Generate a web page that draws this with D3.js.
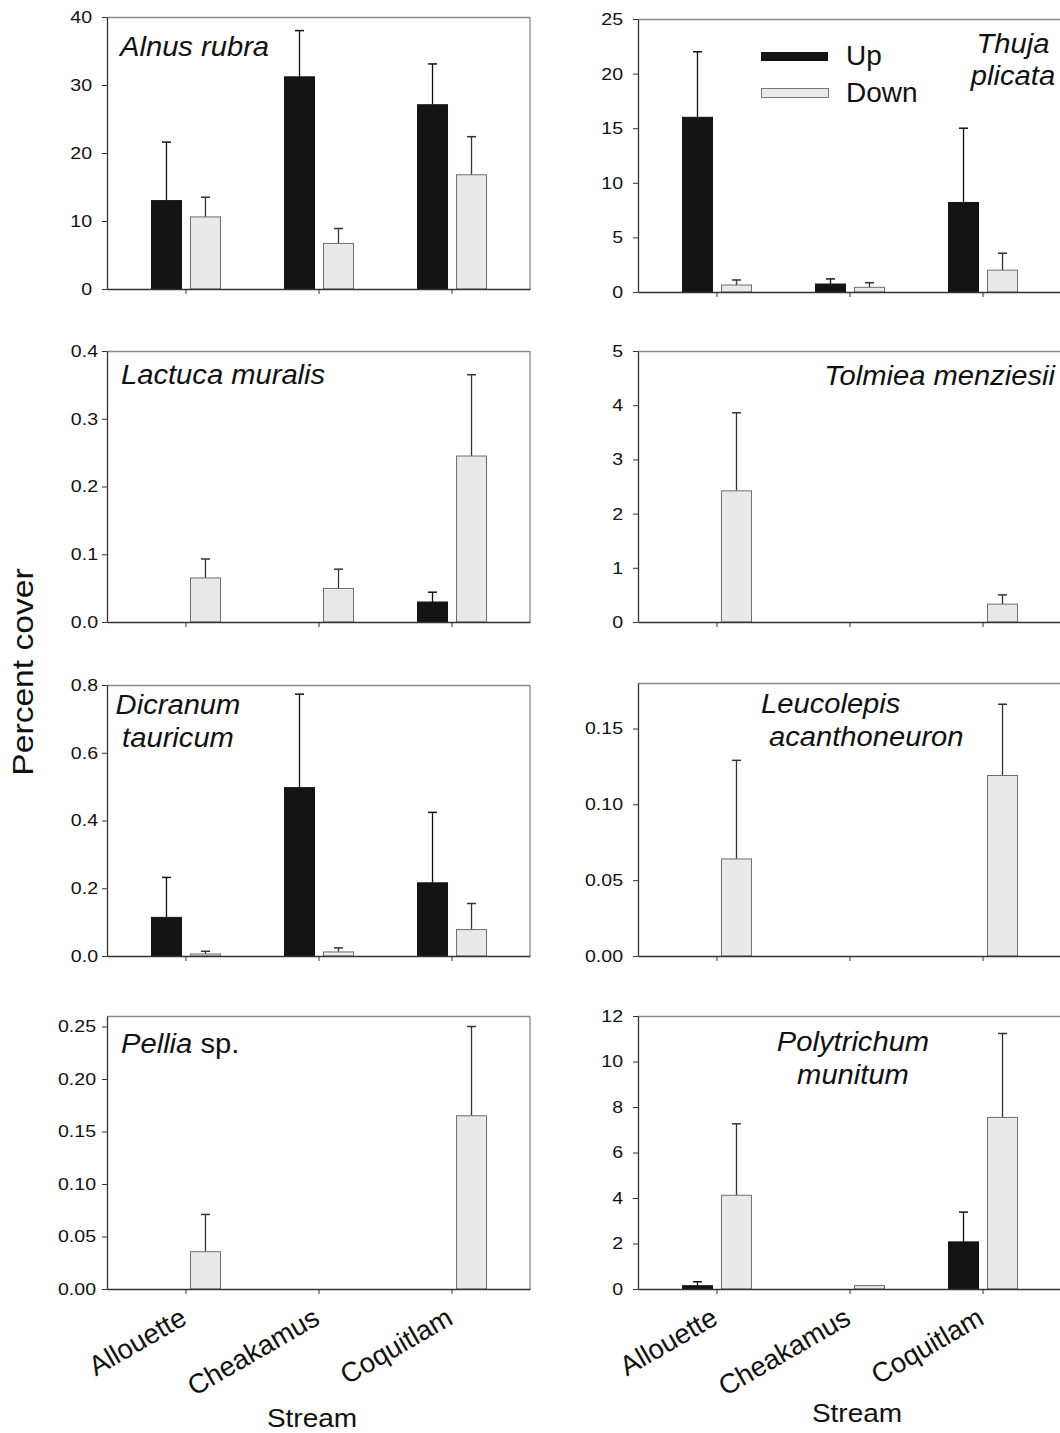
<!DOCTYPE html>
<html>
<head>
<meta charset="utf-8">
<script src="https://cdn.jsdelivr.net/npm/d3@7"></script>
<style>
  body { margin: 0; background: #fff; }
  svg { display: block; }
  text { font-family: "Liberation Sans", Arial, Helvetica, sans-serif; fill: #111; }
</style>
</head>
<body>
<svg id="chart" width="1060" height="1433"></svg>
<script>
// ---- data ----
const streams = ['Allouette', 'Cheakamus', 'Coquitlam'];
const series = ['Up', 'Down'];

// means and standard errors (upper whisker only), per stream
const alnusUp = [13.0, 31.2, 27.1];
const alnusUpSe = [8.6, 6.8, 6.0];
const alnusDown = [10.6, 6.7, 16.8];
const alnusDownSe = [2.9, 2.2, 5.6];
const alnusTicks = [0, 10, 20, 30, 40];

const thujaUp = [16.0, 0.73, 8.2];
const thujaUpSe = [6.0, 0.47, 6.8];
const thujaDown = [0.64, 0.43, 2.0];
const thujaDownSe = [0.46, 0.42, 1.55];
const thujaTicks = [0, 5, 10, 15, 20, 25];

const lactucaUp = [0, 0, 0.0295];
const lactucaUpSe = [0, 0, 0.0145];
const lactucaDown = [0.065, 0.0495, 0.245];
const lactucaDownSe = [0.028, 0.0285, 0.12];
const lactucaTicks = [0, 0.1, 0.2, 0.3, 0.4];

const tolmieaUp = [0, 0, 0];
const tolmieaUpSe = [0, 0, 0];
const tolmieaDown = [2.42, 0, 0.33];
const tolmieaDownSe = [1.44, 0, 0.17];
const tolmieaTicks = [0, 1, 2, 3, 4, 5];

const dicranumUp = [0.114, 0.497, 0.216];
const dicranumUpSe = [0.118, 0.276, 0.208];
const dicranumDown = [0.006, 0.012, 0.078];
const dicranumDownSe = [0.008, 0.012, 0.077];
const dicranumTicks = [0, 0.2, 0.4, 0.6, 0.8];

const leucolepisUp = [0, 0, 0];
const leucolepisUpSe = [0, 0, 0];
const leucolepisDown = [0.064, 0, 0.119];
const leucolepisDownSe = [0.065, 0, 0.047];
const leucolepisTicks = [0, 0.05, 0.10, 0.15];

const pelliaUp = [0, 0, 0];
const pelliaUpSe = [0, 0, 0];
const pelliaDown = [0.0355, 0, 0.165];
const pelliaDownSe = [0.0355, 0, 0.085];
const pelliaTicks = [0, 0.05, 0.10, 0.15, 0.20, 0.25];

const polytrichumUp = [0.145, 0, 2.07];
const polytrichumUpSe = [0.175, 0, 1.31];
const polytrichumDown = [4.12, 0.15, 7.54];
const polytrichumDownSe = [3.14, 0, 3.69];
const polytrichumTicks = [0, 2, 4, 6, 8, 10, 12];

const panels = [
  {up: alnusUp, upSe: alnusUpSe, down: alnusDown, downSe: alnusDownSe, ticks: alnusTicks, max: 40, fmt: 'd'},
  {up: thujaUp, upSe: thujaUpSe, down: thujaDown, downSe: thujaDownSe, ticks: thujaTicks, max: 25, fmt: 'd'},
  {up: lactucaUp, upSe: lactucaUpSe, down: lactucaDown, downSe: lactucaDownSe, ticks: lactucaTicks, max: 0.4, fmt: '.1f'},
  {up: tolmieaUp, upSe: tolmieaUpSe, down: tolmieaDown, downSe: tolmieaDownSe, ticks: tolmieaTicks, max: 5, fmt: 'd'},
  {up: dicranumUp, upSe: dicranumUpSe, down: dicranumDown, downSe: dicranumDownSe, ticks: dicranumTicks, max: 0.8, fmt: '.1f'},
  {up: leucolepisUp, upSe: leucolepisUpSe, down: leucolepisDown, downSe: leucolepisDownSe, ticks: leucolepisTicks, max: 0.18, fmt: '.2f'},
  {up: pelliaUp, upSe: pelliaUpSe, down: pelliaDown, downSe: pelliaDownSe, ticks: pelliaTicks, max: 0.26, fmt: '.2f'},
  {up: polytrichumUp, upSe: polytrichumUpSe, down: polytrichumDown, downSe: polytrichumDownSe, ticks: polytrichumTicks, max: 12, fmt: 'd'}
];

// ---- layout ----
const colX = [107, 638];
const plotW = 423;
const layout = [
  {col: 0, top: 17, bottom: 289, gap: 15,
   label: [{t: 'Alnus rubra', x: 13, y: 39, a: 'start'}]},
  {col: 1, top: 19, bottom: 292, gap: 15,
   label: [{t: 'Thuja', x: 375, y: 34, a: 'middle'}, {t: 'plicata', x: 375, y: 66, a: 'middle'}]},
  {col: 0, top: 351, bottom: 622, gap: 9,
   label: [{t: 'Lactuca muralis', x: 14, y: 33, a: 'start'}]},
  {col: 1, top: 351, bottom: 622, gap: 15,
   label: [{t: 'Tolmiea menziesii', x: 417, y: 34, a: 'end'}]},
  {col: 0, top: 685, bottom: 956, gap: 9,
   label: [{t: 'Dicranum', x: 71, y: 29, a: 'middle'}, {t: 'tauricum', x: 71, y: 62, a: 'middle'}]},
  {col: 1, top: 683, bottom: 956, gap: 15,
   label: [{t: 'Leucolepis', x: 123, y: 30, a: 'start'}, {t: 'acanthoneuron', x: 131, y: 63, a: 'start'}]},
  {col: 0, top: 1016, bottom: 1289, gap: 11,
   label: [{t: 'Pellia', sp: ' sp.', x: 14, y: 37, a: 'start'}]},
  {col: 1, top: 1016, bottom: 1289, gap: 15,
   label: [{t: 'Polytrichum', x: 215, y: 35, a: 'middle'}, {t: 'munitum', x: 215, y: 68, a: 'middle'}]}
];

const svg = d3.select('#chart');
const x = d3.scalePoint().domain(streams).range([0, plotW]).padding(0.59);
const xs = d3.scaleBand().domain(series).range([-34, 35]).paddingInner(0.231);
const bw = xs.bandwidth();

panels.forEach((p, i) => {
  const L = layout[i];
  const h = L.bottom - L.top;
  const g = svg.append('g').attr('transform', `translate(${colX[L.col]},${L.top})`);
  const y = d3.scaleLinear().domain([0, p.max]).range([h, 0]);

  // frame: top and right in lighter grey
  g.append('line').attr('x1', 0).attr('x2', plotW).attr('y1', 0.5).attr('y2', 0.5)
    .attr('stroke', '#8a8a8a').attr('stroke-width', 1.3);
  g.append('line').attr('x1', plotW).attr('x2', plotW).attr('y1', 0).attr('y2', h)
    .attr('stroke', '#8a8a8a').attr('stroke-width', 1.3);

  const rows = [];
  streams.forEach((s, j) => {
    rows.push({s: s, k: 'Up', v: p.up[j], e: p.upSe[j]});
    rows.push({s: s, k: 'Down', v: p.down[j], e: p.downSe[j]});
  });
  const vis = rows.filter(d => d.v > 0);

  // error bars (upper half only)
  const eb = g.append('g').selectAll('g').data(vis.filter(d => d.e > 0)).join('g');
  eb.append('line')
    .attr('x1', d => x(d.s) + xs(d.k) + bw / 2).attr('x2', d => x(d.s) + xs(d.k) + bw / 2)
    .attr('y1', d => y(d.v)).attr('y2', d => y(d.v + d.e))
    .attr('stroke', d => d.k === 'Up' ? '#111' : '#333').attr('stroke-width', 1.3);
  eb.append('line')
    .attr('x1', d => x(d.s) + xs(d.k) + bw / 2 - 4.5).attr('x2', d => x(d.s) + xs(d.k) + bw / 2 + 4.5)
    .attr('y1', d => y(d.v + d.e)).attr('y2', d => y(d.v + d.e))
    .attr('stroke', d => d.k === 'Up' ? '#111' : '#333').attr('stroke-width', 1.5);

  g.append('g').selectAll('rect').data(vis).join('rect')
    .attr('x', d => x(d.s) + xs(d.k))
    .attr('width', bw)
    .attr('y', d => y(d.v))
    .attr('height', d => h - y(d.v))
    .attr('fill', d => d.k === 'Up' ? '#141414' : '#e9e9e9')
    .attr('stroke', d => d.k === 'Up' ? '#141414' : '#6e6e6e')
    .attr('stroke-width', 1);

  // y axis
  const ya = g.append('g')
    .call(d3.axisLeft(y).tickValues(p.ticks).tickFormat(d3.format(p.fmt)).tickSize(5).tickSizeOuter(0));
  ya.attr('font-family', null).attr('font-size', null);
  ya.select('.domain').attr('stroke', '#333').attr('stroke-width', 1.3);
  ya.selectAll('.tick line').attr('stroke', '#333');
  ya.selectAll('.tick text')
    .attr('font-size', 17)
    .attr('x', -L.gap / 1.15)
    .attr('transform', 'scale(1.15,1)')
    .attr('fill', '#111');

  // x axis
  const xa = g.append('g').attr('transform', `translate(0,${h})`)
    .call(d3.axisBottom(x).tickSize(5).tickSizeOuter(0).tickFormat(() => ''));
  xa.select('.domain').attr('stroke', '#333').attr('stroke-width', 1.3);
  xa.selectAll('.tick line').attr('stroke', '#333');

  // species label
  L.label.forEach(l => {
    const t = g.append('text')
      .attr('transform', `translate(${l.x},${l.y}) scale(1.08,1)`)
      .attr('text-anchor', l.a)
      .attr('font-size', 27);
    t.append('tspan').attr('font-style', 'italic').text(l.t);
    if (l.sp) t.append('tspan').text(l.sp);
  });

  // stream labels on the bottom row
  if (i >= 6) {
    g.append('g').selectAll('text').data(streams).join('text')
      .attr('transform', d => `translate(${x(d) + 3},${h + 34}) rotate(-30)`)
      .attr('text-anchor', 'end')
      .attr('font-size', 27.5)
      .text(d => d);
    const sx = L.col === 0 ? 205 : 219;
    const sy = L.col === 0 ? h + 138 : h + 133;
    g.append('text')
      .attr('transform', `translate(${sx},${sy}) scale(1.12,1)`)
      .attr('text-anchor', 'middle')
      .attr('font-size', 25)
      .text('Stream');
  }
});

// legend in the Thuja panel
const leg = svg.append('g').attr('transform', 'translate(761,0)');
leg.append('rect').attr('x', 0).attr('y', 52).attr('width', 67).attr('height', 9).attr('fill', '#141414');
leg.append('rect').attr('x', 0.5).attr('y', 88.5).attr('width', 67).attr('height', 9)
  .attr('fill', '#e9e9e9').attr('stroke', '#777').attr('stroke-width', 1);
leg.append('text').attr('x', 85).attr('y', 65).attr('font-size', 28).text(series[0]);
leg.append('text').attr('x', 85).attr('y', 102).attr('font-size', 28).text(series[1]);

// shared y label
svg.append('text')
  .attr('transform', 'translate(33,672) rotate(-90) scale(1.12,1)')
  .attr('text-anchor', 'middle')
  .attr('font-size', 30)
  .text('Percent cover');
</script>
</body>
</html>
